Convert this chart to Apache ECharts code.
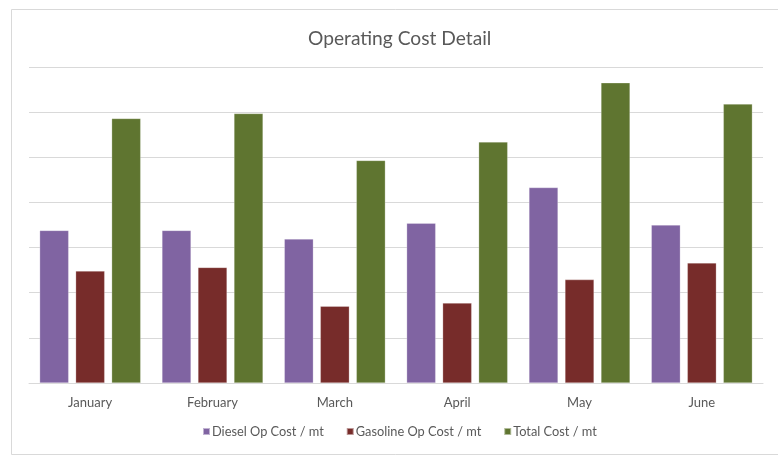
<!DOCTYPE html>
<html>
<head>
<meta charset="utf-8">
<script src="https://cdn.jsdelivr.net/npm/echarts@6/dist/echarts.min.js"></script>
<style>
html,body{margin:0;padding:0;background:#fff;}
#chart{width:778px;height:456px;}
</style>
</head>
<body>
<div id="chart"></div>
<script>
var months = ['January', 'February', 'March', 'April', 'May', 'June'];
var seriesNames = ['Diesel Op Cost / mt', 'Gasoline Op Cost / mt', 'Total Cost / mt'];
var diesel = [3.38, 3.38, 3.19, 3.54, 4.33, 3.50];
var gasoline = [2.48, 2.56, 1.70, 1.77, 2.29, 2.66];
var total = [5.86, 5.97, 4.93, 5.34, 6.65, 6.18];
var colors = ['#8064A2', '#772C2A', '#5F7530'];

var chart = echarts.init(document.getElementById('chart'), null, {renderer: 'canvas'});
var font = 'Lato, "Open Sans", sans-serif';
function barSeries(name, data, color) {
  return {
    name: name,
    type: 'bar',
    data: data,
    barGap: '24%',
    barCategoryGap: '17.4%',
    itemStyle: {color: color, borderColor: 'rgba(255,255,255,0.5)', borderWidth: 0.5},
    emphasis: {disabled: true}
  };
}
chart.setOption({
  animation: false,
  backgroundColor: '#ffffff',
  graphic: [{
    type: 'rect',
    shape: {x: 11.5, y: 9.5, width: 800, height: 445},
    style: {fill: 'none', stroke: '#D9D9D9', lineWidth: 1},
    silent: true
  }],
  title: {
    text: 'Operating Cost Detail',
    left: 303,
    top: 24,
    textStyle: {fontFamily: font, fontSize: 19.2, fontWeight: 'normal', color: '#595959'}
  },
  legend: {
    data: seriesNames,
    bottom: 13,
    left: 197,
    itemWidth: 7,
    itemHeight: 7,
    itemGap: 22,
    icon: 'rect',
    textStyle: {fontFamily: font, fontSize: 12.8, color: '#595959', padding: [0, 0, 0, -3]}
  },
  grid: {left: 29, right: 15, top: 67, bottom: 73, containLabel: false},
  xAxis: {
    type: 'category',
    data: months,
    axisLine: {show: true, lineStyle: {color: '#D9D9D9', width: 1}},
    axisTick: {show: false},
    axisLabel: {fontFamily: font, fontSize: 13, color: '#595959', margin: 13}
  },
  yAxis: {
    type: 'value',
    min: 0,
    max: 7,
    interval: 1,
    axisLine: {show: false},
    axisTick: {show: false},
    axisLabel: {show: false},
    splitLine: {show: true, lineStyle: {color: '#D9D9D9', width: 1}}
  },
  series: [
    barSeries(seriesNames[0], diesel, colors[0]),
    barSeries(seriesNames[1], gasoline, colors[1]),
    barSeries(seriesNames[2], total, colors[2])
  ]
});
</script>
</body>
</html>
